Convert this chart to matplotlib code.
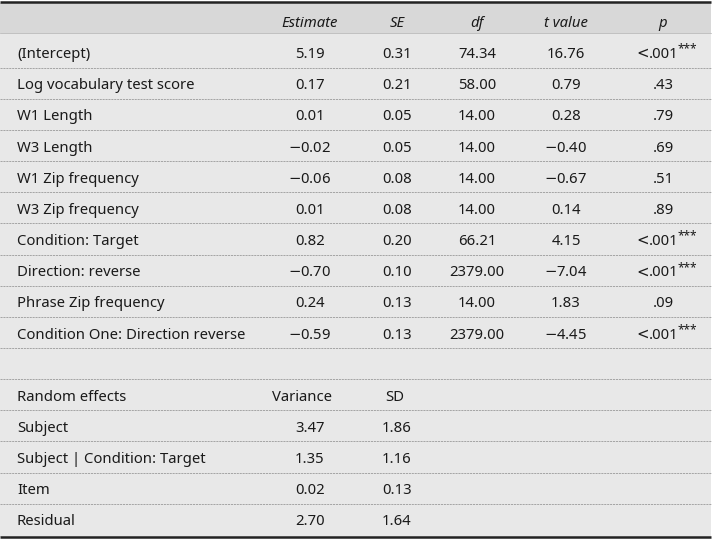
import matplotlib
matplotlib.use("Agg")
import matplotlib.pyplot as plt

plt.rcParams['font.family'] = ['Noto Sans', 'DejaVu Sans']
plt.rcParams['mathtext.fontset'] = 'dejavusans'

col_headers = ["Estimate", "SE", "df", "t value", "p"]
fixed_labels = ["(Intercept)", "Log vocabulary test score", "W1 Length", "W3 Length",
                "W1 Zip frequency", "W3 Zip frequency", "Condition: Target",
                "Direction: reverse", "Phrase Zip frequency", "Condition One: Direction reverse"]
estimate = [5.19, 0.17, 0.01, -0.02, -0.06, 0.01, 0.82, -0.70, 0.24, -0.59]
se = [0.31, 0.21, 0.05, 0.05, 0.08, 0.08, 0.20, 0.10, 0.13, 0.13]
dfs = [74.34, 58.00, 14.00, 14.00, 14.00, 14.00, 66.21, 2379.00, 14.00, 2379.00]
tval = [16.76, 0.79, 0.28, -0.40, -0.67, 0.14, 4.15, -7.04, 1.83, -4.45]
pval = ["<.001", ".43", ".79", ".69", ".51", ".89", "<.001", "<.001", ".09", "<.001"]
stars = ["***", "", "", "", "", "", "***", "***", "", "***"]

rand_header = ["Random effects", "Variance", "SD"]
rand_labels = ["Subject", "Subject | Condition: Target", "Item", "Residual"]
variance = [3.47, 1.35, 0.02, 2.70]
sd = [1.86, 1.16, 0.13, 1.64]

W, H = 713, 540
fig = plt.figure(figsize=(W / 100, H / 100), dpi=100)
ax = fig.add_axes([0, 0, 1, 1])
ax.set_xlim(0, W)
ax.set_ylim(H, 0)
ax.axis('off')

fs = 10.7
txt = '#1a1a1a'
x_label = 17
x_cols = [310, 397, 477, 566, 663]
right = 711
top = 3
header_bottom = 33
first_line = 67.7
row_h = 31.15
bottom = 536.5

# backgrounds
ax.add_patch(plt.Rectangle((0, header_bottom), right, bottom - header_bottom, color='#e8e8e8', lw=0))
ax.add_patch(plt.Rectangle((0, top), right, header_bottom - top, color='#d8d8d8', lw=0))
ax.plot([0, right], [1.5, 1.5], color='#222222', lw=1.8, solid_capstyle='butt')
ax.plot([0, right], [header_bottom, header_bottom], color='#b0b0b0', lw=0.5)
ax.plot([0, right], [bottom, bottom], color='#222222', lw=1.8, solid_capstyle='butt')


def fmt(v):
    s = f"{abs(v):.2f}"
    return ('$-$' + s) if v < 0 else s


def line_y(k):
    return first_line + row_h * k


def base_y(k):
    return line_y(k) - 9.5


def dash(yv):
    ax.plot([0, right], [yv, yv], color='#9a9a9a', lw=0.6, ls=(0, (2.5, 1)))


# header
for xc, h in zip(x_cols, col_headers):
    ax.text(xc, 27, h, ha='center', va='baseline', fontsize=fs, style='italic', color=txt)

for i, lab in enumerate(fixed_labels):
    y = base_y(i)
    ax.text(x_label, y, lab, ha='left', va='baseline', fontsize=fs, color=txt)
    for xc, v in zip(x_cols[:4], [estimate[i], se[i], dfs[i], tval[i]]):
        ax.text(xc, y, fmt(v), ha='center', va='baseline', fontsize=fs, color=txt)
    if pval[i].startswith('<'):
        x0 = 649
        ax.text(x0, y, '<', ha='right', va='baseline', fontsize=fs, color=txt,
                family=['DejaVu Sans'])
        ax.text(x0, y, pval[i][1:], ha='left', va='baseline', fontsize=fs, color=txt)
        ax.text(678, y - 5.5, stars[i], ha='left', va='baseline', fontsize=fs * 0.8, color=txt)
    else:
        ax.text(x_cols[4], y, pval[i], ha='center', va='baseline', fontsize=fs, color=txt)
    dash(line_y(i))

# blank row line
dash(line_y(10))

# random effects header
y = base_y(11)
ax.text(x_label, y, rand_header[0], ha='left', va='baseline', fontsize=fs, color=txt)
ax.text(302, y, rand_header[1], ha='center', va='baseline', fontsize=fs, color=txt)
ax.text(395, y, rand_header[2], ha='center', va='baseline', fontsize=fs, color=txt)
dash(line_y(11))

for j, lab in enumerate(rand_labels):
    k = 12 + j
    y = base_y(k)
    ax.text(x_label, y, lab, ha='left', va='baseline', fontsize=fs, color=txt)
    ax.text(x_cols[0], y, fmt(variance[j]), ha='center', va='baseline', fontsize=fs, color=txt)
    ax.text(x_cols[1], y, fmt(sd[j]), ha='center', va='baseline', fontsize=fs, color=txt)
    if j < len(rand_labels) - 1:
        dash(line_y(k))

fig.savefig('out.png', dpi=100, facecolor='white')
